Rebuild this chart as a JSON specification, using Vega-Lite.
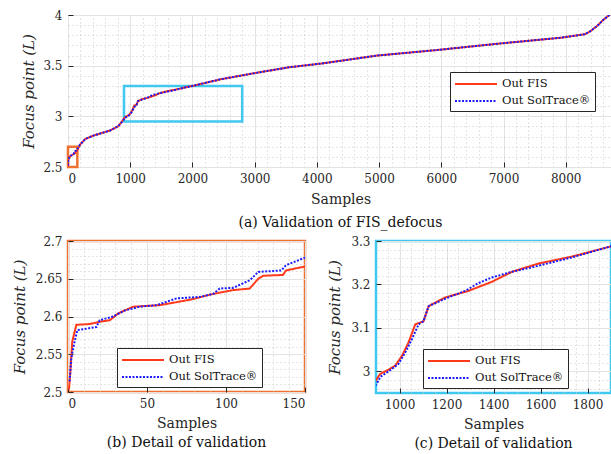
{
  "$schema": "https://vega.github.io/schema/vega-lite/v6.json",
  "padding": {"left": 11, "top": 8, "right": 0, "bottom": 0},
  "background": "white",
  "config": {
    "font": "DejaVu Serif",
    "axis": {
      "labelFont": "DejaVu Serif", "labelFontSize": 12, "labelColor": "#262626",
      "titleFont": "DejaVu Serif", "titleFontSize": 14, "titleFontWeight": "normal", "titleColor": "#262626",
      "gridColor": "#e3e3e3", "gridWidth": 1, "tickColor": "#262626", "domainColor": "#262626",
      "tickSize": -5, "labelPadding": 11
    },
    "legend": {
      "labelFont": "DejaVu Serif", "labelFontSize": 11.5, "labelColor": "#111111",
      "strokeColor": "#262626", "fillColor": "white", "padding": 4, "rowPadding": 3,
      "symbolType": "M-3,0H3", "symbolSize": 196, "symbolStrokeWidth": 2, "symbolOffset": 14, "labelOffset": 18
    },
    "title": {"font": "DejaVu Serif", "fontSize": 14, "fontWeight": "normal", "color": "#111111"}
  },
  "datasets": {
    "curves": [
      {"s": 0.6, "v": 2.503, "series": "Out FIS"},
      {"s": 1.5, "v": 2.527, "series": "Out FIS"},
      {"s": 2.7, "v": 2.567, "series": "Out FIS"},
      {"s": 5.3, "v": 2.589, "series": "Out FIS"},
      {"s": 13.7, "v": 2.59, "series": "Out FIS"},
      {"s": 20, "v": 2.593, "series": "Out FIS"},
      {"s": 26.4, "v": 2.595, "series": "Out FIS"},
      {"s": 31.7, "v": 2.604, "series": "Out FIS"},
      {"s": 41.2, "v": 2.613, "series": "Out FIS"},
      {"s": 58, "v": 2.615, "series": "Out FIS"},
      {"s": 68.7, "v": 2.619, "series": "Out FIS"},
      {"s": 79, "v": 2.623, "series": "Out FIS"},
      {"s": 92, "v": 2.63, "series": "Out FIS"},
      {"s": 104.6, "v": 2.635, "series": "Out FIS"},
      {"s": 115, "v": 2.637, "series": "Out FIS"},
      {"s": 120.4, "v": 2.65, "series": "Out FIS"},
      {"s": 123.6, "v": 2.654, "series": "Out FIS"},
      {"s": 136, "v": 2.655, "series": "Out FIS"},
      {"s": 138, "v": 2.661, "series": "Out FIS"},
      {"s": 147, "v": 2.665, "series": "Out FIS"},
      {"s": 150, "v": 2.666, "series": "Out FIS"},
      {"s": 193, "v": 2.72, "series": "Out FIS"},
      {"s": 274, "v": 2.775, "series": "Out FIS"},
      {"s": 408, "v": 2.81, "series": "Out FIS"},
      {"s": 569, "v": 2.84, "series": "Out FIS"},
      {"s": 677, "v": 2.86, "series": "Out FIS"},
      {"s": 811, "v": 2.905, "series": "Out FIS"},
      {"s": 880, "v": 2.96, "series": "Out FIS"},
      {"s": 904, "v": 2.983, "series": "Out FIS"},
      {"s": 918, "v": 2.994, "series": "Out FIS"},
      {"s": 954, "v": 3.004, "series": "Out FIS"},
      {"s": 982, "v": 3.013, "series": "Out FIS"},
      {"s": 1011, "v": 3.036, "series": "Out FIS"},
      {"s": 1038, "v": 3.066, "series": "Out FIS"},
      {"s": 1067, "v": 3.108, "series": "Out FIS"},
      {"s": 1102, "v": 3.115, "series": "Out FIS"},
      {"s": 1124, "v": 3.15, "series": "Out FIS"},
      {"s": 1194, "v": 3.17, "series": "Out FIS"},
      {"s": 1293, "v": 3.185, "series": "Out FIS"},
      {"s": 1393, "v": 3.206, "series": "Out FIS"},
      {"s": 1478, "v": 3.229, "series": "Out FIS"},
      {"s": 1591, "v": 3.248, "series": "Out FIS"},
      {"s": 1732, "v": 3.264, "series": "Out FIS"},
      {"s": 1895, "v": 3.287, "series": "Out FIS"},
      {"s": 2000, "v": 3.3, "series": "Out FIS"},
      {"s": 2450, "v": 3.365, "series": "Out FIS"},
      {"s": 2987, "v": 3.425, "series": "Out FIS"},
      {"s": 3551, "v": 3.484, "series": "Out FIS"},
      {"s": 4058, "v": 3.52, "series": "Out FIS"},
      {"s": 4975, "v": 3.6, "series": "Out FIS"},
      {"s": 5942, "v": 3.655, "series": "Out FIS"},
      {"s": 6962, "v": 3.72, "series": "Out FIS"},
      {"s": 7929, "v": 3.776, "series": "Out FIS"},
      {"s": 8305, "v": 3.81, "series": "Out FIS"},
      {"s": 8386, "v": 3.835, "series": "Out FIS"},
      {"s": 8520, "v": 3.9, "series": "Out FIS"},
      {"s": 8600, "v": 3.95, "series": "Out FIS"},
      {"s": 8682, "v": 3.99, "series": "Out FIS"},
      {"s": 8760, "v": 4.03, "series": "Out FIS"},
      {"s": 1, "v": 2.514, "series": "Out SolTrace®"},
      {"s": 2.1, "v": 2.545, "series": "Out SolTrace®"},
      {"s": 4.2, "v": 2.567, "series": "Out SolTrace®"},
      {"s": 5.9, "v": 2.582, "series": "Out SolTrace®"},
      {"s": 18, "v": 2.586, "series": "Out SolTrace®"},
      {"s": 20, "v": 2.595, "series": "Out SolTrace®"},
      {"s": 28.5, "v": 2.6, "series": "Out SolTrace®"},
      {"s": 36, "v": 2.608, "series": "Out SolTrace®"},
      {"s": 45.4, "v": 2.613, "series": "Out SolTrace®"},
      {"s": 56, "v": 2.615, "series": "Out SolTrace®"},
      {"s": 68.7, "v": 2.624, "series": "Out SolTrace®"},
      {"s": 83.5, "v": 2.626, "series": "Out SolTrace®"},
      {"s": 92, "v": 2.63, "series": "Out SolTrace®"},
      {"s": 96, "v": 2.637, "series": "Out SolTrace®"},
      {"s": 104.6, "v": 2.638, "series": "Out SolTrace®"},
      {"s": 115, "v": 2.648, "series": "Out SolTrace®"},
      {"s": 120.4, "v": 2.659, "series": "Out SolTrace®"},
      {"s": 135, "v": 2.661, "series": "Out SolTrace®"},
      {"s": 138, "v": 2.668, "series": "Out SolTrace®"},
      {"s": 150, "v": 2.678, "series": "Out SolTrace®"},
      {"s": 193, "v": 2.72, "series": "Out SolTrace®"},
      {"s": 274, "v": 2.775, "series": "Out SolTrace®"},
      {"s": 408, "v": 2.81, "series": "Out SolTrace®"},
      {"s": 569, "v": 2.84, "series": "Out SolTrace®"},
      {"s": 677, "v": 2.86, "series": "Out SolTrace®"},
      {"s": 811, "v": 2.905, "series": "Out SolTrace®"},
      {"s": 880, "v": 2.955, "series": "Out SolTrace®"},
      {"s": 904, "v": 2.972, "series": "Out SolTrace®"},
      {"s": 918, "v": 2.987, "series": "Out SolTrace®"},
      {"s": 954, "v": 3.0, "series": "Out SolTrace®"},
      {"s": 996, "v": 3.017, "series": "Out SolTrace®"},
      {"s": 1025, "v": 3.044, "series": "Out SolTrace®"},
      {"s": 1053, "v": 3.074, "series": "Out SolTrace®"},
      {"s": 1081, "v": 3.108, "series": "Out SolTrace®"},
      {"s": 1102, "v": 3.115, "series": "Out SolTrace®"},
      {"s": 1124, "v": 3.15, "series": "Out SolTrace®"},
      {"s": 1194, "v": 3.167, "series": "Out SolTrace®"},
      {"s": 1279, "v": 3.185, "series": "Out SolTrace®"},
      {"s": 1336, "v": 3.203, "series": "Out SolTrace®"},
      {"s": 1393, "v": 3.216, "series": "Out SolTrace®"},
      {"s": 1478, "v": 3.229, "series": "Out SolTrace®"},
      {"s": 1591, "v": 3.243, "series": "Out SolTrace®"},
      {"s": 1732, "v": 3.262, "series": "Out SolTrace®"},
      {"s": 1895, "v": 3.287, "series": "Out SolTrace®"},
      {"s": 2000, "v": 3.3, "series": "Out SolTrace®"},
      {"s": 2450, "v": 3.365, "series": "Out SolTrace®"},
      {"s": 2987, "v": 3.425, "series": "Out SolTrace®"},
      {"s": 3551, "v": 3.484, "series": "Out SolTrace®"},
      {"s": 4058, "v": 3.52, "series": "Out SolTrace®"},
      {"s": 4975, "v": 3.6, "series": "Out SolTrace®"},
      {"s": 5942, "v": 3.655, "series": "Out SolTrace®"},
      {"s": 6962, "v": 3.72, "series": "Out SolTrace®"},
      {"s": 7929, "v": 3.776, "series": "Out SolTrace®"},
      {"s": 8305, "v": 3.81, "series": "Out SolTrace®"},
      {"s": 8386, "v": 3.835, "series": "Out SolTrace®"},
      {"s": 8520, "v": 3.9, "series": "Out SolTrace®"},
      {"s": 8600, "v": 3.95, "series": "Out SolTrace®"},
      {"s": 8682, "v": 3.99, "series": "Out SolTrace®"},
      {"s": 8760, "v": 4.03, "series": "Out SolTrace®"}
    ],
    "boxes": [
      {"x1": 0, "x2": 150, "y1": 2.5, "y2": 2.7, "box": "b"},
      {"x1": 900, "x2": 2800, "y1": 2.95, "y2": 3.3, "box": "c"}
    ]
  },
  "bounds": "flush",
  "spacing": 74,
  "vconcat": [
    {
      "width": 545,
      "height": 152,
      "view": {"stroke": "#262626", "strokeWidth": 1},
      "title": {"text": "(a) Validation of FIS_defocus", "orient": "bottom", "anchor": "middle", "frame": "group", "offset": 10},
      "resolve": {"axis": {"x": "independent", "y": "independent"}},
      "layer": [
        {
          "data": {"name": "boxes"},
          "mark": {"type": "rect", "filled": false, "strokeWidth": 2.5},
          "encoding": {
            "x": {"field": "x1", "type": "quantitative", "scale": {"domain": [0, 8760], "nice": false, "zero": false},
                  "axis": {"orient": "top", "values": [200,400,600,800,1200,1400,1600,1800,2200,2400,2600,2800,3200,3400,3600,3800,4200,4400,4600,4800,5200,5400,5600,5800,6200,6400,6600,6800,7200,7400,7600,7800,8200,8400,8600], "grid": true, "gridDash": [1, 3], "gridColor": "#c8c8c8", "labels": false, "ticks": false, "domain": false, "title": null}},
            "x2": {"field": "x2"},
            "y": {"field": "y1", "type": "quantitative", "scale": {"domain": [2.5, 4], "nice": false, "zero": false},
                  "axis": {"orient": "right", "values": [2.6,2.7,2.8,2.9,3.1,3.2,3.3,3.4,3.6,3.7,3.8,3.9], "grid": true, "gridDash": [1, 3], "gridColor": "#c8c8c8", "labels": false, "ticks": false, "domain": false, "title": null}},
            "y2": {"field": "y2"},
            "stroke": {"field": "box", "type": "nominal", "scale": {"domain": ["b", "c"], "range": ["#f07030", "#40c8f0"]}, "legend": null}
          }
        },
        {
          "data": {"name": "curves"},
          "mark": {"type": "line", "strokeWidth": 2, "clip": true},
          "encoding": {
            "x": {"field": "s", "type": "quantitative", "axis": {"orient": "bottom", "values": [0,1000,2000,3000,4000,5000,6000,7000,8000], "format": "d", "title": "Samples", "grid": true, "domain": false, "titlePadding": 8}},
            "y": {"field": "v", "type": "quantitative", "axis": {"orient": "left", "values": [2.5,3,3.5,4], "format": "~g", "title": "Focus point (L)", "titleFontStyle": "italic", "titleFontSize": 15, "grid": true, "domain": false, "titlePadding": 6}},
            "color": {"field": "series", "type": "nominal", "scale": {"domain": ["Out FIS", "Out SolTrace®"], "range": ["#ff3a1a", "#1a1aff"]},
                      "legend": {"title": null, "orient": "none", "legendX": 382, "legendY": 57}},
            "strokeDash": {"field": "series", "type": "nominal", "scale": {"domain": ["Out FIS", "Out SolTrace®"], "range": [[1, 0], [2, 1.5]]},
                      "legend": {"title": null, "orient": "none", "legendX": 382, "legendY": 57}}
          }
        }
      ]
    },
    {
      "bounds": "flush",
      "spacing": 71,
      "resolve": {"scale": {"color": "independent", "strokeDash": "independent"}, "legend": {"color": "independent", "strokeDash": "independent"}},
      "hconcat": [
        {
          "width": 237,
          "height": 151,
          "view": {"stroke": "#f07030", "strokeWidth": 2.5},
          "title": {"text": "(b) Detail of validation", "orient": "bottom", "anchor": "middle", "frame": "group", "offset": 6},
          "data": {"name": "curves"},
          "resolve": {"axis": {"x": "independent", "y": "independent"}},
          "layer": [
            {
              "mark": {"type": "line", "strokeOpacity": 0, "clip": true},
              "encoding": {
                "x": {"field": "s", "type": "quantitative", "scale": {"domain": [0, 150], "nice": false, "zero": false},
                      "axis": {"orient": "top", "values": [10,20,30,40,60,70,80,90,110,120,130,140], "grid": true, "gridDash": [1, 3], "gridColor": "#c8c8c8", "labels": false, "ticks": false, "domain": false, "title": null}},
                "y": {"field": "v", "type": "quantitative", "scale": {"domain": [2.5, 2.7], "nice": false, "zero": false},
                      "axis": {"orient": "right", "values": [2.51,2.52,2.53,2.54,2.56,2.57,2.58,2.59,2.61,2.62,2.63,2.64,2.66,2.67,2.68,2.69], "grid": true, "gridDash": [1, 3], "gridColor": "#c8c8c8", "labels": false, "ticks": false, "domain": false, "title": null}},
                "detail": {"field": "series"}
              }
            },
            {
              "mark": {"type": "line", "strokeWidth": 2, "clip": true},
              "encoding": {
                "x": {"field": "s", "type": "quantitative", "axis": {"orient": "bottom", "values": [0,50,100,150], "format": "d", "title": "Samples", "grid": true, "domain": false, "titlePadding": 7}},
                "y": {"field": "v", "type": "quantitative", "axis": {"orient": "left", "values": [2.5,2.55,2.6,2.65,2.7], "format": "~g", "title": "Focus point (L)", "titleFontStyle": "italic", "titleFontSize": 15, "grid": true, "domain": false, "titlePadding": 8}},
                "color": {"field": "series", "type": "nominal", "scale": {"domain": ["Out FIS", "Out SolTrace®"], "range": ["#ff3a1a", "#1a1aff"]},
                          "legend": {"title": null, "orient": "none", "legendX": 49, "legendY": 107}},
                "strokeDash": {"field": "series", "type": "nominal", "scale": {"domain": ["Out FIS", "Out SolTrace®"], "range": [[1, 0], [2, 1.5]]},
                          "legend": {"title": null, "orient": "none", "legendX": 49, "legendY": 107}}
              }
            }
          ]
        },
        {
          "width": 235,
          "height": 152,
          "view": {"stroke": "#40c8f0", "strokeWidth": 2.5},
          "title": {"text": "(c) Detail of validation", "orient": "bottom", "anchor": "middle", "frame": "group", "offset": 6},
          "data": {"name": "curves"},
          "resolve": {"axis": {"x": "independent", "y": "independent"}},
          "layer": [
            {
              "mark": {"type": "line", "strokeOpacity": 0, "clip": true},
              "encoding": {
                "x": {"field": "s", "type": "quantitative", "scale": {"domain": [900, 1900], "nice": false, "zero": false},
                      "axis": {"orient": "top", "values": [950,1050,1100,1150,1250,1300,1350,1450,1500,1550,1650,1700,1750,1850], "grid": true, "gridDash": [1, 3], "gridColor": "#c8c8c8", "labels": false, "ticks": false, "domain": false, "title": null}},
                "y": {"field": "v", "type": "quantitative", "scale": {"domain": [2.95, 3.3], "nice": false, "zero": false},
                      "axis": {"orient": "right", "values": [2.96,2.98,3.02,3.04,3.06,3.08,3.12,3.14,3.16,3.18,3.22,3.24,3.26,3.28], "grid": true, "gridDash": [1, 3], "gridColor": "#c8c8c8", "labels": false, "ticks": false, "domain": false, "title": null}},
                "detail": {"field": "series"}
              }
            },
            {
              "mark": {"type": "line", "strokeWidth": 2, "clip": true},
              "encoding": {
                "x": {"field": "s", "type": "quantitative", "axis": {"orient": "bottom", "values": [1000,1200,1400,1600,1800], "format": "d", "title": "Samples", "grid": true, "domain": false, "titlePadding": 7}},
                "y": {"field": "v", "type": "quantitative", "axis": {"orient": "left", "values": [3,3.1,3.2,3.3], "format": "~g", "title": "Focus point (L)", "titleFontStyle": "italic", "titleFontSize": 15, "grid": true, "domain": false, "titlePadding": 8}},
                "color": {"field": "series", "type": "nominal", "scale": {"domain": ["Out FIS", "Out SolTrace®"], "range": ["#ff3a1a", "#1a1aff"]},
                          "legend": {"title": null, "orient": "none", "legendX": 47, "legendY": 108}},
                "strokeDash": {"field": "series", "type": "nominal", "scale": {"domain": ["Out FIS", "Out SolTrace®"], "range": [[1, 0], [2, 1.5]]},
                          "legend": {"title": null, "orient": "none", "legendX": 47, "legendY": 108}}
              }
            }
          ]
        }
      ]
    }
  ]
}
